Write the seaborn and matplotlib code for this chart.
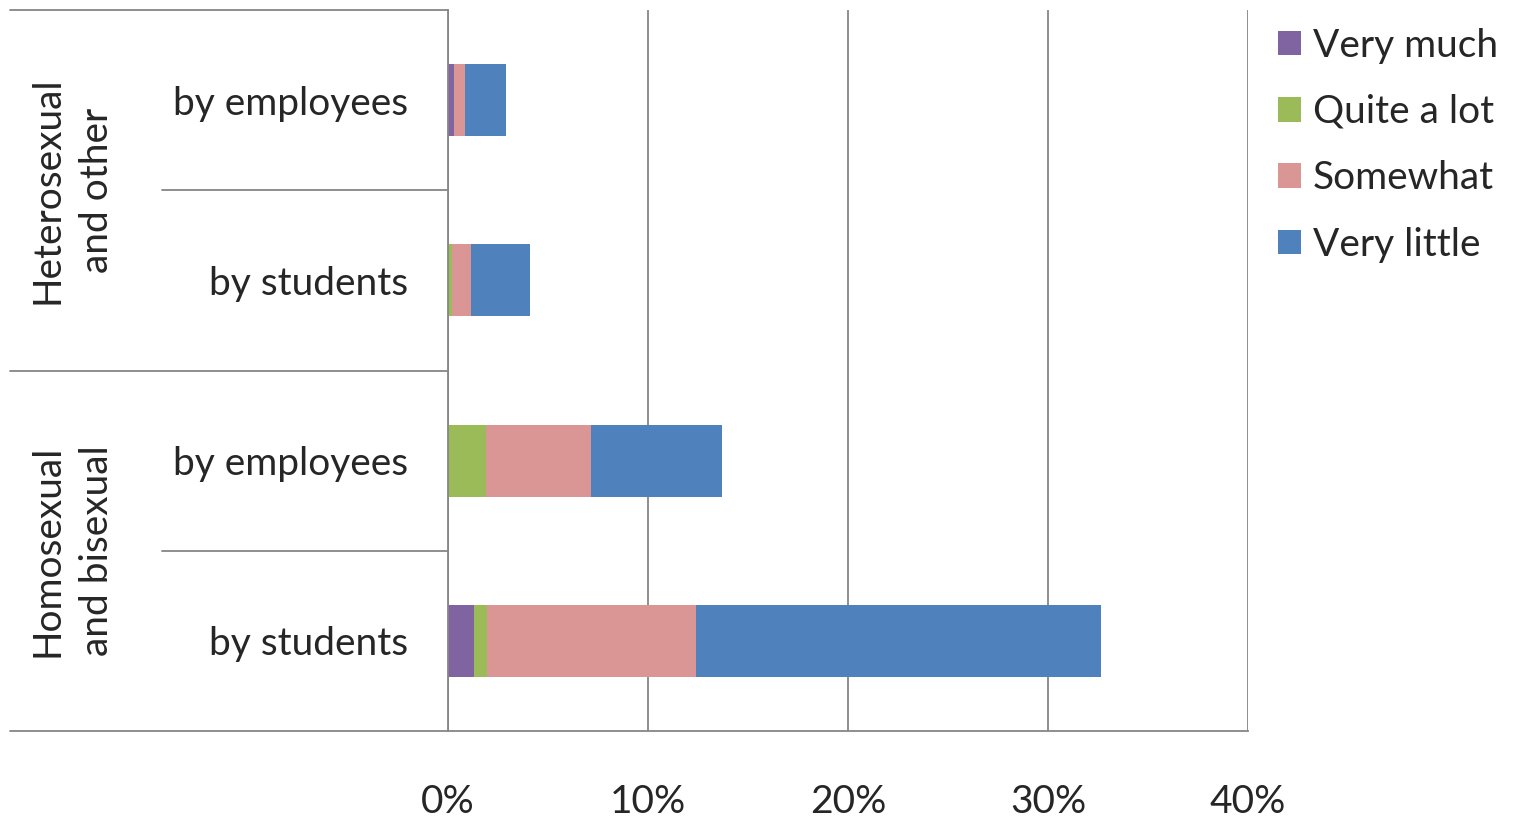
import matplotlib
matplotlib.use('Agg')
import matplotlib.pyplot as plt
from matplotlib.patches import Patch
import seaborn as sns
import pandas as pd

# data (percent)
groups = ['Heterosexual\nand other', 'Heterosexual\nand other', 'Homosexual\nand bisexual', 'Homosexual\nand bisexual']
sources = ['by employees', 'by students', 'by employees', 'by students']
levels = ['Very much', 'Quite a lot', 'Somewhat', 'Very little']
very_much = [0.3, 0.0, 0.0, 1.3]
quite_a_lot = [0.0, 0.2, 1.9, 0.65]
somewhat = [0.55, 0.95, 5.25, 10.45]
very_little = [2.05, 2.93, 6.55, 20.25]
colors = ['#8064A2', '#9BBB59', '#D99694', '#4F81BD']

rows = [g.replace('\n', ' ') + '|' + s for g, s in zip(groups, sources)]
df = pd.DataFrame({'row': rows, 'Very much': very_much, 'Quite a lot': quite_a_lot,
                   'Somewhat': somewhat, 'Very little': very_little})
# cumulative totals for stacking
cum = df[levels].cumsum(axis=1)

sns.set_style('white')
plt.rcParams['font.family'] = ['Lato', 'DejaVu Sans']
fs = 28
grey = '#868686'

fig = plt.figure(figsize=(15.13, 8.17), dpi=100)
ax = fig.add_axes([448 / 1513, 86 / 817, 800 / 1513, 721 / 817])

# draw from largest cumulative down so smaller segments sit on top
for lev, col in reversed(list(zip(levels, colors))):
    sns.barplot(x=cum[lev], y=df['row'], order=rows, orient='h', color=col,
                width=0.4, ax=ax, saturation=1, edgecolor='none')

ax.set_xlim(0, 40)
ax.set_ylim(3.5, -0.5)
ax.set_xticks([0, 10, 20, 30, 40])
ax.set_xticklabels(['0%', '10%', '20%', '30%', '40%'], fontsize=fs)
ax.set_yticks(range(4))
ax.set_yticklabels(sources, fontsize=fs)
ax.set_xlabel('')
ax.set_ylabel('')
ax.tick_params(axis='x', length=10, width=1.3, color=grey, pad=28, direction='out')
ax.tick_params(axis='y', which='major', length=0, pad=29)
ax.set_yticks([-0.5, 1.5, 3.5], minor=True)
ax.tick_params(axis='y', which='minor', length=7, width=1.3, color=grey)

ax.grid(axis='x', color=grey, linewidth=1.3)
ax.set_axisbelow(True)
for side in ['top', 'right']:
    ax.spines[side].set_visible(False)
for side in ['left', 'bottom']:
    ax.spines[side].set_color(grey)
    ax.spines[side].set_linewidth(1.3)

# category frame lines on the left
tr = ax.get_yaxis_transform()
x_outer = (10 - 448) / 800
x_inner = (162 - 448) / 800
for yv in [-0.5, 1.5, 3.5]:
    ax.plot([x_outer, 0], [yv, yv], color=grey, lw=1.3, transform=tr, clip_on=False)
for yv in [0.5, 2.5]:
    ax.plot([x_inner, 0], [yv, yv], color=grey, lw=1.3, transform=tr, clip_on=False)

# group labels
for i, g in enumerate([groups[0], groups[2]]):
    ax.text((72 - 448) / 800, 2 * i + 0.5, g, rotation=90, ha='center', va='center',
            fontsize=fs, transform=tr, linespacing=1.45)

handles = [Patch(facecolor=c, edgecolor='none') for c in colors]
fig.legend(handles, levels, loc='upper left', bbox_to_anchor=(1262 / 1513, 1 - 12 / 817),
           frameon=False, fontsize=fs, handlelength=0.6, handleheight=0.6,
           handletextpad=0.3, labelspacing=0.78, borderaxespad=0)

fig.savefig('out.png', dpi=100)
